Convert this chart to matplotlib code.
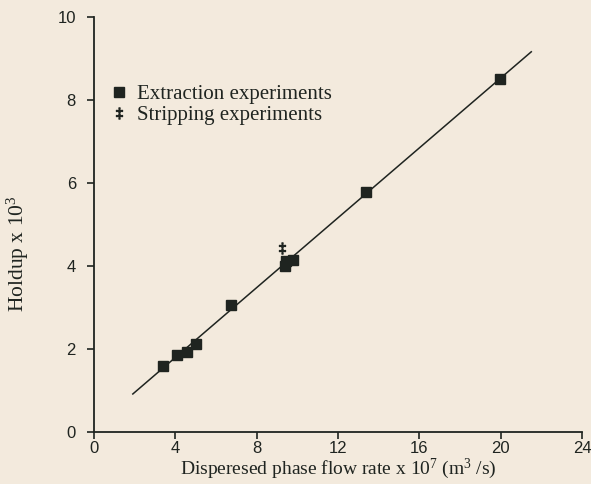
import matplotlib
matplotlib.use("Agg")
import matplotlib.pyplot as plt

# Data
extraction_x = [3.38, 4.06, 4.55, 5.04, 6.75, 9.39, 9.44, 9.78, 13.36, 19.96]
extraction_y = [1.58, 1.85, 1.92, 2.11, 3.05, 4.00, 4.12, 4.15, 5.78, 8.51]
stripping_x = [9.25]
stripping_y = [4.44]
fit_x = [1.91, 21.5]
fit_y = [0.91, 9.16]
xticks = [0, 4, 8, 12, 16, 20, 24]
yticks = [0, 2, 4, 6, 8, 10]

bg = '#f3eadd'
ink = '#1f2420'

plt.rcParams['mathtext.fontset'] = 'custom'
plt.rcParams['mathtext.rm'] = 'Liberation Serif'
plt.rcParams['mathtext.it'] = 'Liberation Serif'

fig = plt.figure(figsize=(5.91, 4.84), dpi=100, facecolor=bg)
ax = fig.add_axes([0.159, 0.108, 0.826, 0.857], facecolor=bg)

ax.plot(fit_x, fit_y, color=ink, lw=1.1, zorder=2)
ax.plot(extraction_x, extraction_y, 's', color=ink, ms=7.5, ls='none',
        label='Extraction experiments', zorder=3)
ax.plot(stripping_x, stripping_y, marker=r'$\ddagger$', color=ink, ms=8, ls='none',
        label='Stripping experiments', zorder=3)

ax.set_xlim(0, 24)
ax.set_ylim(0, 10)
ax.set_xticks(xticks)
ax.set_yticks(yticks)
for s in ['top', 'right']:
    ax.spines[s].set_visible(False)
for s in ['left', 'bottom']:
    ax.spines[s].set_color(ink)
    ax.spines[s].set_linewidth(1.3)
ax.tick_params(direction='out', length=5, width=1.2, color=ink,
               labelsize=12, labelcolor=ink)
for lbl in ax.get_xticklabels() + ax.get_yticklabels():
    lbl.set_family('Liberation Sans')
ax.tick_params(axis='y', pad=8)
ax.tick_params(axis='x', pad=2)

ax.set_xlabel(r'Disperesed phase flow rate x 10$^{\mathrm{7}}$ (m$^{\mathrm{3}}$ /s)',
              family='Liberation Serif', fontsize=14, color=ink, labelpad=0)
ax.set_ylabel(r'Holdup x 10$^{\mathrm{3}}$', family='Liberation Serif',
              fontsize=15.5, color=ink)
ax.yaxis.label.set_va('center')
ax.yaxis.set_label_coords(-0.155, 0.43)

leg = ax.legend(loc='upper left', bbox_to_anchor=(-0.005, 0.882), frameon=False,
                handlelength=0.8, handletextpad=0.5, labelspacing=0.05,
                prop={'family': 'Liberation Serif', 'size': 15})
for t in leg.get_texts():
    t.set_color(ink)

fig.savefig('out.png', dpi=100, facecolor=bg)
